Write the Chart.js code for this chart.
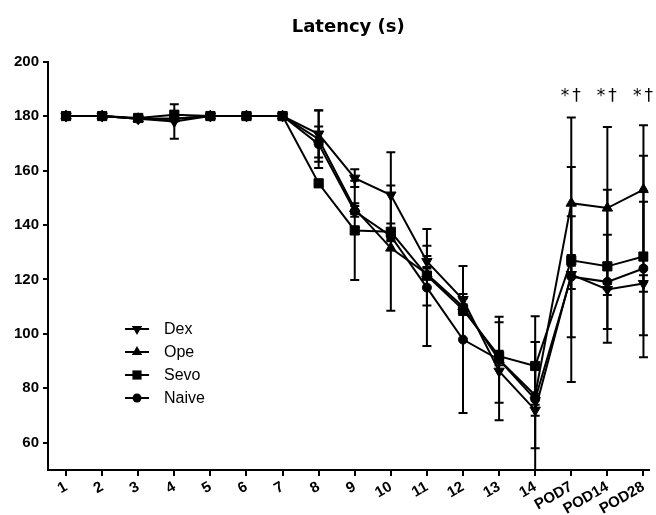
<!DOCTYPE html>
<html>
<head>
<meta charset="utf-8">
<script src="https://cdn.jsdelivr.net/npm/chart.js@4.4.1/dist/chart.umd.min.js"></script>
<style>
  html, body { margin: 0; padding: 0; background: #fff; }
  #wrap { width: 656px; height: 515px; }
</style>
</head>
<body>
<div id="wrap"><canvas id="chart" width="656" height="515"></canvas></div>
<script>
// x categories (session day, then post-op days)
const labels = ["1", "2", "3", "4", "5", "6", "7", "8", "9", "10", "11", "12", "13", "14", "POD7", "POD14", "POD28"];

// mean latency (s) and SD per group
const dexMean   = [180, 180, 179, 178, 180, 180, 180, 173.4, 157.2, 151, 126.6, 112.6, 86.3, 72, 121.8, 116.3, 118.5];
const dexSD     = [0, 0, 0, 6.3, 0, 0, 0, 8.6, 3.3, 15.7, 2, 2, 18, 25, 39.5, 2, 3];
const opeMean   = [180, 180, 179, 179, 180, 180, 180, 171.5, 146, 131.5, 122, 110, 90.5, 77.5, 148, 146.2, 153];
const opeSD     = [0, 0, 0, 0, 0, 0, 0, 10.6, 2, 23, 2, 3, 15.8, 19.5, 31.5, 29.8, 23.6];
const sevoMean  = [180, 180, 179.3, 180.5, 180, 180, 180, 155.3, 138, 137.5, 121.4, 108.9, 91.8, 88.2, 127, 124.8, 128.4];
const sevoSD    = [0, 0, 0, 0, 0, 0, 0, 1, 18.2, 3, 11, 2, 2, 18.3, 2, 28.1, 37];
const naiveMean = [180, 180, 179, 179, 180, 180, 180, 169.7, 145, 136, 117, 97.9, 90.5, 76, 121, 119.1, 124];
const naiveSD   = [0, 0, 0, 0, 0, 0, 0, 6.5, 2, 2, 21.5, 27, 2, 2, 22.2, 17.3, 24.5];

// significance marks above the post-op points
const marks = ["", "", "", "", "", "", "", "", "", "", "", "", "", "", "*†", "*†", "*†"];
const markLevel = 187;

const yTicks = [60, 80, 100, 120, 140, 160, 180, 200];

function toPoints(arr) {
  return arr.map((v, i) => ({ x: i + 1, y: v }));
}

function makeSet(label, mean, sd, style, radius, rotation) {
  return {
    label,
    data: toPoints(mean),
    sd,
    borderColor: "#000",
    backgroundColor: "#000",
    borderWidth: 2,
    pointStyle: style,
    pointRadius: radius,
    pointRotation: rotation,
    pointBackgroundColor: "#000",
    pointBorderColor: "#000",
    pointBorderWidth: 1,
    tension: 0
  };
}

function drawMarker(ctx, style, rot, r, x, y) {
  ctx.beginPath();
  if (style === "circle") {
    ctx.arc(x, y, r, 0, Math.PI * 2);
  } else if (style === "rect") {
    const s = r * Math.SQRT1_2;
    ctx.rect(x - s, y - s, 2 * s, 2 * s);
  } else {
    let a = rot * Math.PI / 180;
    ctx.moveTo(x + Math.sin(a) * r, y - Math.cos(a) * r);
    a += 2 * Math.PI / 3;
    ctx.lineTo(x + Math.sin(a) * r, y - Math.cos(a) * r);
    a += 2 * Math.PI / 3;
    ctx.lineTo(x + Math.sin(a) * r, y - Math.cos(a) * r);
    ctx.closePath();
  }
  ctx.fill();
}

const errorBars = {
  id: "errorBars",
  beforeDatasetsDraw(chart) {
    const { ctx, chartArea, scales: { x, y } } = chart;
    ctx.save();
    ctx.beginPath();
    ctx.rect(chartArea.left, 0, chartArea.right - chartArea.left, chartArea.bottom);
    ctx.clip();
    ctx.strokeStyle = "#000";
    ctx.lineWidth = 2;
    chart.data.datasets.forEach(ds => {
      ds.sd.forEach((s, i) => {
        if (!s) return;
        const m = ds.data[i].y;
        const px = x.getPixelForValue(i + 1);
        const top = y.getPixelForValue(m + s);
        const bot = y.getPixelForValue(m - s);
        ctx.beginPath();
        ctx.moveTo(px, top); ctx.lineTo(px, bot);
        ctx.moveTo(px - 4.5, top); ctx.lineTo(px + 4.5, top);
        ctx.moveTo(px - 4.5, bot); ctx.lineTo(px + 4.5, bot);
        ctx.stroke();
      });
    });
    ctx.restore();
  }
};

const extras = {
  id: "extras",
  afterDraw(chart) {
    const { ctx, scales: { x, y } } = chart;
    ctx.save();
    // significance marks
    ctx.fillStyle = "#000";
    ctx.font = "17px 'DejaVu Sans'";
    ctx.textAlign = "center";
    ctx.textBaseline = "middle";
    ctx.letterSpacing = "3px";
    marks.forEach((m, i) => {
      if (m) ctx.fillText(m, x.getPixelForValue(i + 1) + 1, y.getPixelForValue(markLevel));
    });
    ctx.letterSpacing = "0px";

    // legend inside plot
    const lx = 125, ly = 329, row = 23;
    ctx.font = "16px 'Liberation Sans'";
    ctx.textAlign = "left";
    chart.data.datasets.forEach((ds, i) => {
      const yy = ly + i * row;
      ctx.strokeStyle = "#000";
      ctx.lineWidth = 2;
      ctx.beginPath();
      ctx.moveTo(lx, yy); ctx.lineTo(lx + 24, yy);
      ctx.stroke();
      drawMarker(ctx, ds.pointStyle, ds.pointRotation, ds.pointRadius, lx + 12, yy);
      ctx.fillText(ds.label, lx + 39, yy + 1);
    });
    ctx.restore();
  }
};

const tickFont = { family: "'Liberation Sans', Arial, sans-serif", size: 15, weight: "bold" };

new Chart(document.getElementById("chart"), {
  type: "line",
  data: {
    datasets: [
      makeSet("Dex", dexMean, dexSD, "triangle", 6, 180),
      makeSet("Ope", opeMean, opeSD, "triangle", 6, 0),
      makeSet("Sevo", sevoMean, sevoSD, "rect", 6.5, 0),
      makeSet("Naive", naiveMean, naiveSD, "circle", 4.5, 0)
    ]
  },
  options: {
    responsive: false,
    animation: false,
    layout: { padding: 0 },
    plugins: {
      legend: { display: false },
      tooltip: { enabled: false },
      title: {
        display: true,
        fullSize: false,
        text: "Latency (s)",
        color: "#000",
        font: { family: "'DejaVu Sans'", size: 18, weight: "bold" },
        padding: { top: 17, bottom: 23 }
      }
    },
    scales: {
      x: {
        type: "linear",
        min: 0.5,
        max: 17.14,
        afterBuildTicks: s => { s.ticks = labels.map((_, i) => ({ value: i + 1 })); },
        afterFit: s => { s.height = 45; },
        ticks: {
          color: "#000",
          font: tickFont,
          autoSkip: false,
          minRotation: 30,
          maxRotation: 30,
          padding: 2,
          callback: v => labels[v - 1] ?? ""
        },
        grid: { display: true, drawOnChartArea: false, drawTicks: true, tickLength: 6, color: "#000", lineWidth: 2 },
        border: { display: true, color: "#000", width: 2 }
      },
      y: {
        min: 50,
        max: 200,
        afterBuildTicks: s => { s.ticks = yTicks.map(v => ({ value: v })); },
        afterFit: s => { s.width = 48; },
        ticks: { color: "#000", font: tickFont, padding: 4 },
        grid: { display: true, drawOnChartArea: false, drawTicks: true, tickLength: 5, color: "#000", lineWidth: 2 },
        border: { display: true, color: "#000", width: 2 }
      }
    }
  },
  plugins: [errorBars, extras]
});
</script>
</body>
</html>
